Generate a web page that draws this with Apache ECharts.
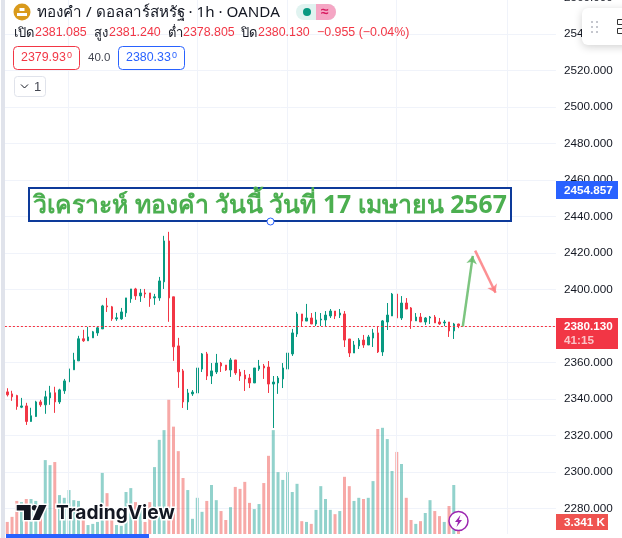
<!DOCTYPE html>
<html><head><meta charset="utf-8">
<style>html,body{margin:0;padding:0;background:#fff}#c{width:622px;height:538px}</style>
<script src="https://cdn.jsdelivr.net/npm/echarts@6/dist/echarts.min.js"></script>
</head><body><div id="c"></div>
<script>
const opens=[2343.9,2342.8,2341.9,2335.5,2336.2,2327.7,2330.4,2338.4,2336.8,2340.6,2343.4,2338.4,2344.5,2349.4,2356.0,2360.9,2373.0,2371.9,2373.5,2376.2,2378.4,2391.0,2390.5,2383.9,2383.9,2387.2,2394.9,2400.3,2396.5,2398.1,2398.1,2395.4,2395.4,2404.2,2426.6,2396.0,2369.1,2355.4,2338.4,2342.8,2343.3,2356.4,2364.7,2352.6,2354.8,2359.7,2358.6,2355.9,2361.4,2354.8,2353.2,2351.5,2348.8,2356.4,2358.1,2357.5,2348.2,2348.8,2351.0,2356.4,2364.7,2375.6,2386.6,2382.7,2384.4,2381.1,2383.3,2383.3,2385.5,2388.2,2386.0,2386.6,2372.9,2365.2,2369.1,2372.3,2369.6,2373.4,2376.2,2365.8,2382.2,2385.5,2397.5,2384.4,2392.6,2389.9,2382.8,2384.9,2382.2,2384.4,2384.9,2382.2,2381.7,2382.2,2377.3,2381.085];
const closes=[2342.3,2341.2,2335.9,2336.2,2327.7,2330.8,2338.4,2336.8,2341.2,2343.4,2338.4,2345.0,2349.9,2356.5,2361.4,2373.0,2371.9,2374.0,2376.8,2379.0,2391.0,2390.5,2383.9,2384.5,2387.7,2395.4,2400.3,2396.5,2398.1,2397.6,2395.0,2396.0,2404.7,2426.6,2395.4,2368.6,2354.9,2338.4,2343.3,2343.8,2357.0,2364.7,2352.6,2355.4,2359.7,2358.1,2355.9,2361.4,2354.3,2352.6,2351.0,2348.8,2357.0,2358.1,2357.0,2348.2,2349.3,2351.5,2357.0,2365.2,2376.2,2386.6,2382.7,2384.4,2381.1,2383.3,2383.8,2386.0,2388.2,2385.5,2387.1,2372.3,2365.2,2369.6,2372.3,2369.6,2374.0,2376.2,2365.8,2382.8,2386.0,2397.5,2384.4,2392.6,2389.3,2382.8,2384.9,2382.2,2384.4,2384.9,2381.7,2381.1,2382.2,2377.3,2381.1,2380.13];
const lows=[2341.4,2339.0,2334.1,2335.0,2325.8,2327.5,2330.2,2335.7,2331.9,2336.8,2332.4,2337.3,2342.8,2348.3,2356.0,2360.9,2371.3,2371.9,2373.5,2374.6,2378.4,2387.7,2382.8,2382.8,2383.4,2385.0,2392.7,2394.3,2393.2,2395.4,2390.5,2391.6,2393.8,2400.3,2382.3,2360.9,2346.1,2335.1,2334.0,2341.7,2343.3,2354.8,2350.4,2348.2,2353.7,2354.8,2355.4,2352.1,2353.2,2349.9,2344.4,2346.0,2348.8,2355.4,2351.0,2343.3,2324.1,2342.8,2346.0,2354.3,2363.6,2374.0,2380.0,2382.7,2381.1,2380.0,2380.0,2379.5,2384.4,2383.8,2384.4,2368.5,2363.0,2365.2,2367.4,2368.0,2369.6,2368.5,2365.2,2363.6,2377.8,2385.5,2380.0,2383.3,2389.3,2378.4,2382.8,2382.2,2380.6,2381.1,2381.7,2380.6,2380.0,2374.0,2372.9,2378.805];
const highs=[2345.9,2344.5,2342.3,2340.6,2337.9,2335.2,2339.0,2339.5,2344.5,2347.2,2346.7,2345.6,2351.0,2357.1,2365.3,2374.6,2377.9,2379.5,2377.3,2379.5,2391.6,2395.4,2391.0,2387.2,2389.9,2395.4,2400.3,2400.9,2400.3,2400.3,2398.1,2397.6,2406.9,2429.4,2431.6,2396.0,2373.5,2356.4,2345.5,2344.9,2372.9,2365.2,2365.8,2359.7,2364.7,2360.3,2358.6,2362.5,2361.4,2356.4,2355.9,2353.7,2357.0,2361.4,2359.2,2360.8,2352.6,2352.6,2359.7,2370.7,2378.4,2387.7,2386.6,2392.1,2387.1,2387.7,2387.1,2388.2,2389.3,2388.2,2389.3,2388.2,2372.9,2371.8,2373.4,2375.1,2375.1,2378.4,2380.0,2383.3,2392.6,2398.1,2397.5,2396.4,2395.3,2390.4,2387.1,2387.1,2384.9,2385.5,2386.0,2384.4,2383.3,2382.2,2381.7,2381.24];
const volumes=[3.1,4.4,8.5,8.2,9.0,9.0,8.5,6.6,19.0,17.7,18.5,10.0,9.3,11.3,8.7,8.5,6.2,2.3,2.6,3.1,15.7,10.5,3.6,2.3,2.1,10.8,11.8,8.2,6.2,3.1,8.2,17.2,24.2,26.7,34.5,27.6,21.3,14.4,11.3,3.9,9.3,5.7,8.5,12.6,8.7,5.9,3.6,6.9,12.1,11.6,13.4,8.0,6.4,7.7,13.1,20.1,26.7,15.9,13.9,15.9,10.8,12.9,3.3,3.1,2.6,6.2,12.3,9.0,6.2,5.1,5.9,14.7,12.3,8.5,9.3,9.0,9.3,13.6,27.0,27.3,24.4,16.2,21.1,18.0,9.3,3.6,2.6,3.3,5.4,8.7,5.9,4.6,3.1,7.2,12.6,3.341];
const slotCount=116;
const categories=Array.from({length:slotCount},(_,i)=>String(i));
const lastPrice=2380.13;
const timeGrid=[12.8,39.9,58.9,81.8,105.2];
const upArrow=[[95.9,2379.8],[98,2418.4]];
const downArrow=[[98.5,2421.3],[102.8,2398.2]];
const priceTicks={min:2280,max:2560,interval:20};

const UP='#089981',DN='#f23645',INK='#131722';
const FONT='"Liberation Sans","Noto Sans",sans-serif';
const THAI='"Noto Sans","Liberation Sans",sans-serif';
const t=(x,y,text,size,fill,o)=>Object.assign({type:'text',z:50,silent:true,style:Object.assign({x,y,text,fill,font:`${size}px ${FONT}`,textVerticalAlign:'middle'},o||{})});
const box=(x,y,w,h,stroke,fill,r,lw)=>({type:'rect',z:48,silent:true,shape:{x,y,width:w,height:h,r:r||0},style:{fill:fill||'#fff',stroke:stroke||null,lineWidth:lw||1}});
const vline=(ax,ya)=>({type:'line',xAxisIndex:ax,yAxisIndex:ya,data:[],z:0,silent:true,animation:false,
  markLine:{silent:true,symbol:'none',animation:false,label:{show:false},lineStyle:{color:'#f0f3fa',width:1,type:'solid'},data:timeGrid.map(v=>({xAxis:v}))}});
const arrow=(pts,color)=>({type:'line',xAxisIndex:2,yAxisIndex:0,data:[],z:10,silent:true,animation:false,
  markLine:{silent:true,symbol:['none','arrow'],symbolSize:8,animation:false,label:{show:false},lineStyle:{color,width:2.5,type:'solid',opacity:.85},
    data:[[{coord:pts[0]},{coord:pts[1]}]]}});

const chart=echarts.init(document.getElementById('c'),null,{renderer:'canvas'});
chart.setOption({
 animation:false,backgroundColor:'#fff',
 grid:[{left:4.9,width:551,top:-2.5,height:511,outerBoundsMode:'none'},{left:4.9,width:551,top:378.4,height:155.6,outerBoundsMode:'none'}],
 xAxis:[
  {type:'category',data:categories,gridIndex:0,show:false},
  {type:'category',data:categories,gridIndex:1,show:false},
  {type:'value',min:-0.5,max:115.5,gridIndex:0,show:false},
  {type:'value',min:-0.5,max:115.5,gridIndex:1,show:false}
 ],
 yAxis:[
  {type:'value',gridIndex:0,position:'right',min:priceTicks.min,max:priceTicks.max,interval:priceTicks.interval,
   axisLine:{show:false},axisTick:{show:false},
   axisLabel:{show:true,margin:8,color:INK,fontSize:11.7,fontFamily:FONT,formatter:v=>v.toFixed(3),showMinLabel:true,showMaxLabel:true},
   splitLine:{show:true,lineStyle:{color:'#f0f3fa',width:1}}},
  {type:'value',gridIndex:1,min:0,max:40,show:false,splitLine:{show:false}}
 ],
 series:[
  vline(2,0),vline(3,1),
  {type:'bar',xAxisIndex:1,yAxisIndex:1,barWidth:3,z:2,silent:true,
   data:volumes.map((v,i)=>({value:v,itemStyle:{color:closes[i]>=opens[i]?'rgba(38,166,154,.5)':'rgba(239,83,80,.5)'}}))},
  {type:'candlestick',xAxisIndex:0,yAxisIndex:0,barWidth:2,z:3,silent:true,
   itemStyle:{color:UP,color0:DN,borderColor:UP,borderColor0:DN,borderWidth:1},
   data:opens.map((o,i)=>[o,closes[i],lows[i],highs[i]]),
   markLine:{silent:true,symbol:'none',animation:false,label:{show:false},
     lineStyle:{color:'#f7323f',width:1,type:[2,2]},data:[{yAxis:lastPrice}]}},
  arrow(upArrow,'#66bb6a'),arrow(downArrow,'#fb7c80')
 ],
 graphic:{elements:[
  box(1,0,4,538,null,'#e0e3eb'),
  {type:'circle',z:50,silent:true,shape:{cx:22,cy:12,r:8.5},style:{fill:'#d99a1c'}},
  {type:'rect',z:51,silent:true,shape:{x:17,y:13,width:10,height:3},style:{fill:'#fff'}},
  {type:'rect',z:51,silent:true,shape:{x:19.5,y:8,width:5,height:3},style:{fill:'#fff'}},
  t(37,12.5,'ทองคำ / ดอลลาร์สหรัฐ · 1h · OANDA',15.2,INK,{font:`15.2px ${THAI}`}),
  {type:'rect',z:48,silent:true,shape:{x:296,y:4,width:40,height:16,r:8},style:{fill:'#e0f3f0'}},
  {type:'rect',z:49,silent:true,shape:{x:316,y:4,width:20,height:16,r:[0,8,8,0]},style:{fill:'#f5a6c4'}},
  {type:'circle',z:50,silent:true,shape:{cx:307,cy:12,r:4},style:{fill:UP}},
  t(321,12,'≈',14,'#d81b60',{font:`bold 14px ${FONT}`}),
  t(14,33,'เปิด',13,INK,{font:`13px ${THAI}`}),t(35,33,'2381.085',12.4,DN),
  t(94,33,'สูง',13,INK,{font:`13px ${THAI}`}),t(109,33,'2381.240',12.4,DN),
  t(168,33,'ต่ำ',13,INK,{font:`13px ${THAI}`}),t(183,33,'2378.805',12.4,DN),
  t(241,33,'ปิด',13,INK,{font:`13px ${THAI}`}),t(258,33,'2380.130',12.4,DN),
  t(317,33,'−0.955 (−0.04%)',12.4,DN),
  box(13.5,46.5,66,23,DN,'#fff',4),t(21,58,'2379.93',12.4,DN),t(67,56,'0',9,DN),
  t(88,58,'40.0',11.5,'#434651'),
  box(118.5,46.5,66,23,'#2962ff','#fff',4),t(126,58,'2380.33',12.4,'#2962ff'),t(172,56,'0',9,'#2962ff'),
  box(14.5,76.5,31,20,'#e0e3eb','#fff',3),
  {type:'polyline',z:50,silent:true,shape:{points:[[21,84.5],[24.5,88],[28,84.5]]},style:{stroke:INK,fill:null,lineWidth:1}},
  t(34,87,'1',13,'#434651'),
  box(29,188,482,33,'#0d3a9a','#fff',0,2),
  t(270,206,'วิเคราะห์ ทองคำ วันนี้ วันที่ 17 เมษายน 2567',24.8,'#4caf50',{font:`bold 24.8px ${THAI}`,textAlign:'center'}),
  {type:'circle',z:51,silent:true,shape:{cx:270.5,cy:221.5,r:3.5},style:{fill:'#fff',stroke:'#2962ff',lineWidth:1}},
  box(556,181,62,18,null,'#2962ff'),t(564,190.5,'2454.857',11.7,'#fff',{font:`bold 11.7px ${FONT}`}),
  box(556,318,62,31,null,DN),t(564,327,'2380.130',11.7,'#fff',{font:`bold 11.7px ${FONT}`}),
  t(564,341,'41:15',11.7,'#fbc4c8',{font:`bold 11.7px ${FONT}`}),
  box(556,514,52,16,null,'#ef5350'),t(564,522.5,'3.341 K',11.7,'#fff',{font:`bold 11.7px ${FONT}`}),
  {type:'rect',z:48,silent:true,shape:{x:582,y:8,width:60,height:37,r:6},style:{fill:'#fff',shadowBlur:8,shadowColor:'rgba(0,0,0,.18)',shadowOffsetY:2}},
  ...[[592,22],[597,22],[592,27],[597,27],[592,32],[597,32]].map(p=>({type:'circle',z:50,silent:true,shape:{cx:p[0],cy:p[1],r:1},style:{fill:'#b2b5be'}})),
  {type:'rect',z:50,silent:true,shape:{x:617.5,y:19.5,width:6,height:5},style:{fill:'none',stroke:'#333',lineWidth:1}},
  {type:'rect',z:50,silent:true,shape:{x:617.5,y:28.5,width:6,height:5},style:{fill:'none',stroke:'#333',lineWidth:1}},
  {type:'polygon',z:50,silent:true,shape:{points:[[16.7,505],[30.7,505],[30.7,520],[24,520],[24,510.5],[16.7,510.5]]},style:{fill:INK,stroke:'#fff',lineWidth:3,strokeFirst:true}},
  {type:'circle',z:50,silent:true,shape:{cx:34.5,cy:507.7,r:2.7},style:{fill:INK,stroke:'#fff',lineWidth:2,strokeFirst:true}},
  {type:'polygon',z:50,silent:true,shape:{points:[[39,505],[46.5,505],[39.5,520],[32.5,520]]},style:{fill:INK,stroke:'#fff',lineWidth:3,strokeFirst:true}},
  t(56,513.5,'TradingView',19.2,INK,{font:`700 19.2px Inter,${FONT}`,stroke:'#fff',lineWidth:3,strokeFirst:true}),
  {type:'circle',z:50,silent:true,shape:{cx:458.5,cy:521,r:9.5},style:{fill:'#fff',stroke:'#9c27b0',lineWidth:1.5}},
  {type:'polygon',z:51,silent:true,shape:{points:[[460.5,515],[455,522],[458,522],[456.5,527],[462,520],[459,520]]},style:{fill:'#9c27b0'}},
  box(6,534,143,4,null,'#2962ff')
 ]}
});
</script></body></html>
